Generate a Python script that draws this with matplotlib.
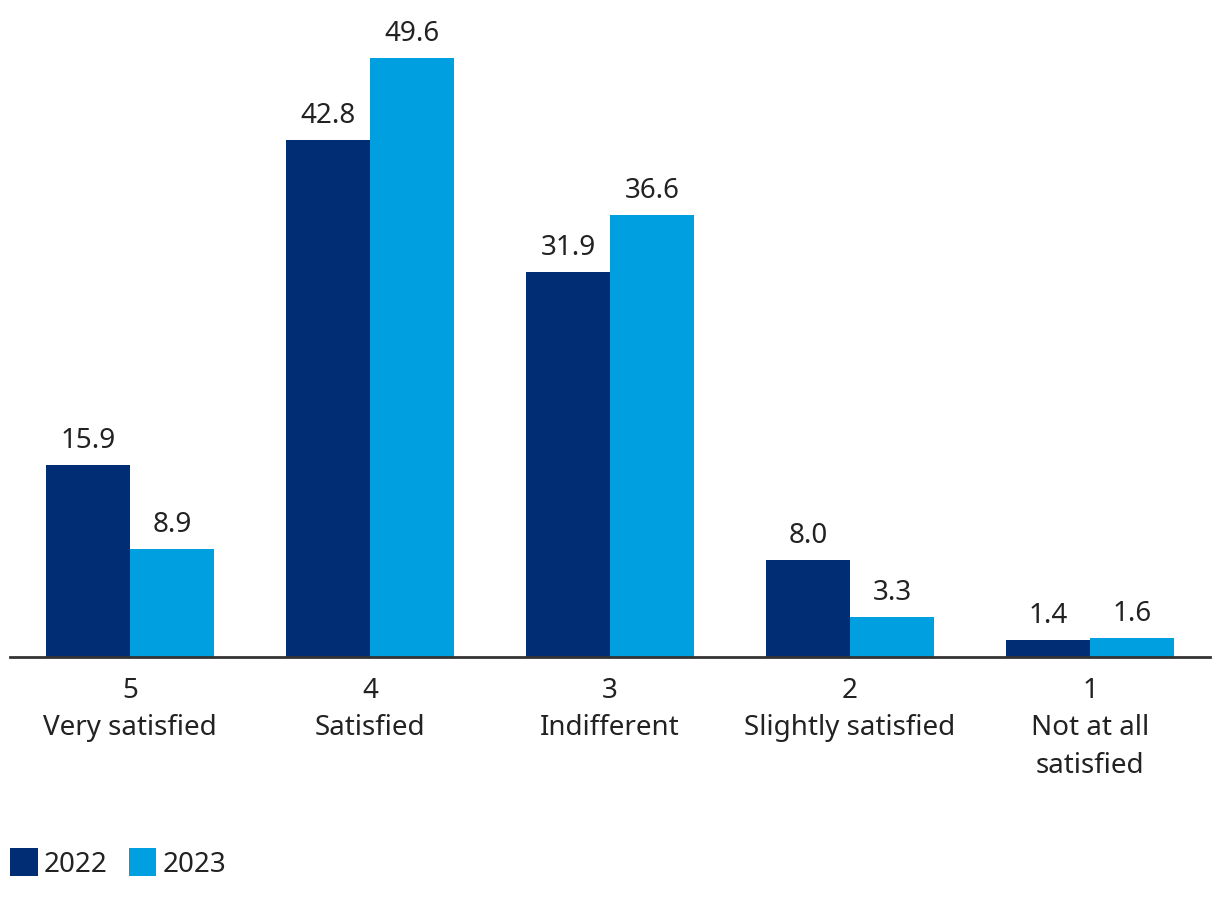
import matplotlib.pyplot as plt
import numpy as np

categories = ["5\nVery satisfied", "4\nSatisfied", "3\nIndifferent",
              "2\nSlightly satisfied", "1\nNot at all\nsatisfied"]
values_2022 = [15.9, 42.8, 31.9, 8.0, 1.4]
values_2023 = [8.9, 49.6, 36.6, 3.3, 1.6]
years = ["2022", "2023"]
colors = ["#002D74", "#009FDF"]

plt.rcParams['font.family'] = ['Noto Sans', 'DejaVu Sans']
text_color = "#222222"
fs = 20

fig = plt.figure(figsize=(12.2, 9.04), dpi=100)
ax = fig.add_axes([10 / 1220, 1 - 658 / 904, 1200 / 1220, 658 / 904])

x = np.arange(len(categories))
width = 0.35
series = [values_2022, values_2023]
for i, vals in enumerate(series):
    offs = (i - 0.5) * width
    bars = ax.bar(x + offs, vals, width, color=colors[i], label=years[i])
    for b, v in zip(bars, vals):
        ax.annotate(f"{v:.1f}", (b.get_x() + b.get_width() / 2, v),
                    xytext=(0, 8), textcoords="offset points",
                    ha="center", va="bottom", fontsize=fs, color=text_color)

ax.set_xlim(-0.5, 4.5)
ax.set_ylim(0, 658 / 12.08)
ax.set_xticks(x)
ax.set_xticklabels(categories, fontsize=fs, color=text_color, linespacing=1.43)
ax.tick_params(axis="x", length=0, pad=14)
ax.set_yticks([])
for s in ["top", "right", "left"]:
    ax.spines[s].set_visible(False)
ax.spines["bottom"].set_color("#333333")
ax.spines["bottom"].set_linewidth(2)

leg = fig.legend(loc="center left", bbox_to_anchor=(10 / 1220, 1 - 864 / 904), ncol=2,
                 frameon=False, fontsize=fs, handlelength=1.0, handleheight=1.2,
                 handletextpad=0.22, columnspacing=0.75, borderaxespad=0,
                 borderpad=0)
for t in leg.get_texts():
    t.set_color(text_color)

fig.savefig("out.png", dpi=100)
